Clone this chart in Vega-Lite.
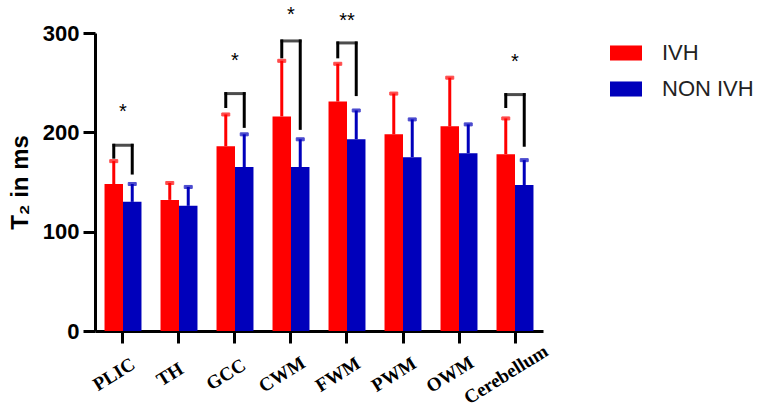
{
  "$schema": "https://vega.github.io/schema/vega-lite/v6.json",
  "autosize": {"type": "none"},
  "padding": {"left": 95, "top": 33, "right": 222, "bottom": 78},
  "width": 448,
  "height": 298,
  "background": "white",
  "config": {
    "view": {"stroke": null},
    "axis": {
      "domainColor": "black", "domainWidth": 3,
      "tickColor": "black", "tickWidth": 3, "tickSize": 12,
      "grid": false, "labelColor": "black", "titleColor": "black"
    },
    "legend": {
      "orient": "none", "legendX": 515, "legendY": 4,
      "labelFont": "Liberation Sans", "labelFontSize": 22, "labelColor": "#222",
      "labelOffset": 20, "rowPadding": 9, "title": null
    }
  },
  "datasets": {
    "bars": [
      {"region": "PLIC", "group": "IVH", "mean": 148, "upper": 171},
      {"region": "PLIC", "group": "NON IVH", "mean": 130, "upper": 148},
      {"region": "TH", "group": "IVH", "mean": 132, "upper": 149},
      {"region": "TH", "group": "NON IVH", "mean": 126, "upper": 145},
      {"region": "GCC", "group": "IVH", "mean": 186, "upper": 218},
      {"region": "GCC", "group": "NON IVH", "mean": 165, "upper": 198},
      {"region": "CWM", "group": "IVH", "mean": 216, "upper": 272},
      {"region": "CWM", "group": "NON IVH", "mean": 165, "upper": 193},
      {"region": "FWM", "group": "IVH", "mean": 231, "upper": 269},
      {"region": "FWM", "group": "NON IVH", "mean": 193, "upper": 222},
      {"region": "PWM", "group": "IVH", "mean": 198, "upper": 239},
      {"region": "PWM", "group": "NON IVH", "mean": 175, "upper": 213},
      {"region": "OWM", "group": "IVH", "mean": 206, "upper": 255},
      {"region": "OWM", "group": "NON IVH", "mean": 179, "upper": 208},
      {"region": "Cerebellum", "group": "IVH", "mean": 178, "upper": 214},
      {"region": "Cerebellum", "group": "NON IVH", "mean": 147, "upper": 172}
    ],
    "legs": [
      {"region": "PLIC", "group": "IVH", "top": 187, "bottom": 175},
      {"region": "PLIC", "group": "NON IVH", "top": 187, "bottom": 159},
      {"region": "GCC", "group": "IVH", "top": 239, "bottom": 226},
      {"region": "GCC", "group": "NON IVH", "top": 239, "bottom": 206},
      {"region": "CWM", "group": "IVH", "top": 292, "bottom": 276},
      {"region": "CWM", "group": "NON IVH", "top": 292, "bottom": 204},
      {"region": "FWM", "group": "IVH", "top": 290, "bottom": 276},
      {"region": "FWM", "group": "NON IVH", "top": 290, "bottom": 238},
      {"region": "Cerebellum", "group": "IVH", "top": 238, "bottom": 226},
      {"region": "Cerebellum", "group": "NON IVH", "top": 238, "bottom": 187}
    ],
    "sig": [
      {"region": "PLIC", "top": 187, "star": 226, "label": "*"},
      {"region": "GCC", "top": 239, "star": 277, "label": "*"},
      {"region": "CWM", "top": 292, "star": 323, "label": "*"},
      {"region": "FWM", "top": 290, "star": 317, "label": "**"},
      {"region": "Cerebellum", "top": 238, "star": 276, "label": "*"}
    ]
  },
  "encoding": {
    "x": {
      "field": "region", "type": "nominal", "sort": null,
      "scale": {"paddingInner": 0.34, "paddingOuter": 0.17},
      "axis": {
        "title": null, "labelAngle": -32, "labelAlign": "center", "labelBaseline": "middle",
        "labelFont": "Liberation Serif", "labelFontWeight": "bold", "labelFontSize": 19,
        "labelOffset": -9, "labelPadding": 31
      }
    }
  },
  "layer": [
    {
      "data": {"name": "bars"},
      "mark": {"type": "bar"},
      "encoding": {
        "xOffset": {"field": "group", "type": "nominal"},
        "y": {
          "field": "mean", "type": "quantitative",
          "scale": {"domain": [0, 300], "nice": false},
          "axis": {
            "values": [0, 100, 200, 300], "title": "T₂ in ms",
            "labelFont": "Liberation Sans", "labelFontWeight": "bold", "labelFontSize": 22,
            "labelPadding": 4, "titleFont": "Liberation Sans", "titleFontWeight": "bold",
            "titleFontSize": 24, "titlePadding": 10
          }
        },
        "color": {
          "field": "group", "type": "nominal",
          "scale": {"domain": ["IVH", "NON IVH"], "range": ["#FF0000", "#0000BB"]},
          "legend": {"symbolType": "M-1,-0.47H1V0.47H-1Z", "symbolSize": 1024, "symbolStrokeWidth": 0}
        }
      }
    },
    {
      "data": {"name": "bars"},
      "mark": {"type": "rule", "strokeWidth": 3},
      "encoding": {
        "xOffset": {"field": "group", "type": "nominal"},
        "y": {"field": "mean", "type": "quantitative"},
        "y2": {"field": "upper"},
        "stroke": {
          "field": "group", "type": "nominal",
          "scale": {"domain": ["IVH", "NON IVH"], "range": ["#FF0000", "#0000BB"]},
          "legend": null
        }
      }
    },
    {
      "data": {"name": "bars"},
      "mark": {"type": "tick", "size": 8, "thickness": 3},
      "encoding": {
        "xOffset": {"field": "group", "type": "nominal"},
        "y": {"field": "upper", "type": "quantitative"},
        "stroke": {"field": "group", "type": "nominal", "legend": null},
        "fill": {"field": "group", "type": "nominal", "legend": null,
          "scale": {"domain": ["IVH", "NON IVH"], "range": ["#FF0000", "#0000BB"]}}
      }
    },
    {
      "data": {"name": "legs"},
      "mark": {"type": "rule", "strokeWidth": 3, "color": "black", "strokeCap": "square"},
      "encoding": {
        "xOffset": {"field": "group", "type": "nominal"},
        "y": {"field": "top", "type": "quantitative"},
        "y2": {"field": "bottom"}
      }
    },
    {
      "data": {"name": "sig"},
      "mark": {"type": "tick", "size": 21, "thickness": 3, "color": "black"},
      "encoding": {
        "y": {"field": "top", "type": "quantitative"}
      }
    },
    {
      "data": {"name": "sig"},
      "mark": {"type": "text", "font": "Liberation Sans", "fontSize": 20, "baseline": "middle", "dy": 5, "color": "black"},
      "encoding": {
        "y": {"field": "star", "type": "quantitative"},
        "text": {"field": "label"}
      }
    }
  ]
}
